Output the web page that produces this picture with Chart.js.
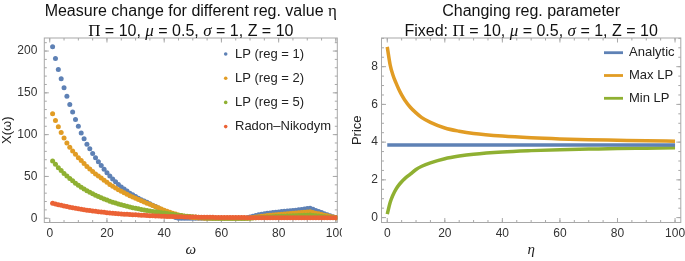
<!DOCTYPE html>
<html>
<head>
<meta charset="utf-8">
<script src="https://cdn.jsdelivr.net/npm/chart.js@4.4.1/dist/chart.umd.min.js"></script>
<style>
  html, body { margin: 0; padding: 0; background: #fff; }
  #wrap { display: flex; width: 685px; height: 261px; }
  canvas { display: block; }
</style>
</head>
<body>
<div id="wrap">
  <canvas id="measure" width="342" height="261"></canvas>
  <canvas id="price" width="343" height="261"></canvas>
</div>
<script>
// ── Left panel: measure X(ω) for each regularisation value ──
const OMEGA = [
  1, 2, 3, 4, 5, 6, 7, 8, 9, 10, 11, 12, 13, 14, 15, 16, 17, 18, 19, 20,
  21, 22, 23, 24, 25, 26, 27, 28, 29, 30, 31, 32, 33, 34, 35, 36, 37, 38, 39, 40,
  41, 42, 43, 44, 45, 46, 47, 48, 49, 50, 51, 52, 53, 54, 55, 56, 57, 58, 59, 60,
  61, 62, 63, 64, 65, 66, 67, 68, 69, 70, 71, 72, 73, 74, 75, 76, 77, 78, 79, 80,
  81, 82, 83, 84, 85, 86, 87, 88, 89, 90, 91, 92, 93, 94, 95, 96, 97, 98, 99, 100,
];
const LP_REG1 = [
  205, 191, 178, 167, 156, 146, 136, 127, 118, 110,
  102, 95, 88.5, 83, 77.5, 72.5, 67.5, 63, 58.5, 54.5,
  50.5, 47, 43.5, 40.5, 37.5, 35, 32.5, 30, 28, 26,
  24, 22, 20.5, 19, 17.3, 15.6, 14, 12.3, 10.6, 8.8,
  6.8, 4.8, 2.8, 1, 0, 0, 0, 0, 0, 0,
  0, 0, 0, 0, 0, 0, 0, 0, 0, 0,
  0, 0, 0, 0, 0, 0, 0, 0, 0.5, 1.5,
  2.5, 3.3, 4.1, 4.8, 5.4, 5.9, 6.4, 6.8, 7.2, 7.6,
  8.0, 8.3, 8.7, 9.0, 9.4, 9.7, 10.1, 10.5, 11.0, 11.5,
  12.0, 10.7, 9.4, 8.1, 6.8, 5.5, 4.3, 3.1, 1.9, 0.8,
];
const LP_REG2 = [
  125, 117, 109.5, 102.5, 96, 90, 85, 80.5, 76.5, 72.5,
  69, 65.5, 62, 59, 56, 53, 50.5, 48, 45.5, 43,
  40.5, 38.3, 36.2, 34.2, 32.3, 30.5, 28.7, 27, 25.4, 23.8,
  22.3, 20.8, 19.4, 18, 16.6, 15.2, 13.8, 12.4, 11, 9.7,
  8.4, 7.2, 6.1, 5.0, 4.0, 3.2, 2.5, 1.9, 1.4, 1.0,
  0.7, 0.4, 0.2, 0, 0, 0, 0, 0, 0, 0,
  0, 0, 0, 0, 0, 0, 0, 0, 0, 0.3,
  0.8, 1.4, 1.9, 2.4, 2.8, 3.2, 3.5, 3.8, 4.1, 4.4,
  4.7, 5.0, 5.3, 5.6, 5.9, 6.2, 6.5, 6.8, 7.1, 7.4,
  7.7, 6.9, 6.1, 5.3, 4.5, 3.7, 2.9, 2.1, 1.4, 0.7,
];
const LP_REG5 = [
  68.5, 64.5, 60.5, 57, 53.5, 50.5, 47.5, 44.7, 42, 39.5,
  37.2, 35, 33, 31, 29.2, 27.5, 25.9, 24.4, 23, 21.7,
  20.4, 19.2, 18.1, 17, 16, 15.1, 14.2, 13.4, 12.6, 11.9,
  11.2, 10.5, 9.9, 9.3, 8.7, 8.2, 7.7, 7.2, 6.7, 6.2,
  5.7, 5.2, 4.7, 4.2, 3.7, 3.2, 2.8, 2.4, 2.0, 1.7,
  1.4, 1.1, 0.8, 0.6, 0.4, 0.2, 0.1, 0, 0, 0,
  0, 0, 0, 0, 0, 0, 0, 0, 0, 0,
  0.2, 0.5, 0.8, 1.0, 1.2, 1.4, 1.6, 1.8, 2.0, 2.2,
  2.3, 2.5, 2.6, 2.8, 2.9, 3.1, 3.2, 3.4, 3.5, 3.7,
  3.8, 3.4, 3.0, 2.6, 2.2, 1.8, 1.4, 1.1, 0.8, 0.5,
];
const RADON_NIKODYM = [
  18, 17.1, 16.2, 15.4, 14.6, 13.9, 13.2, 12.5, 11.9, 11.3,
  10.7, 10.2, 9.7, 9.2, 8.7, 8.3, 7.9, 7.5, 7.1, 6.7,
  6.4, 6.1, 5.8, 5.5, 5.2, 4.9, 4.7, 4.5, 4.3, 4.1,
  3.9, 3.7, 3.5, 3.3, 3.1, 2.95, 2.8, 2.65, 2.5, 2.35,
  2.2, 2.1, 2.0, 1.9, 1.8, 1.7, 1.6, 1.5, 1.45, 1.4,
  1.35, 1.3, 1.25, 1.2, 1.15, 1.1, 1.05, 1.0, 0.95, 0.9,
  0.88, 0.86, 0.84, 0.82, 0.8, 0.78, 0.76, 0.74, 0.72, 0.7,
  0.7, 0.69, 0.68, 0.67, 0.66, 0.65, 0.64, 0.63, 0.62, 0.61,
  0.6, 0.6, 0.59, 0.59, 0.58, 0.58, 0.57, 0.57, 0.56, 0.56,
  0.55, 0.55, 0.54, 0.54, 0.53, 0.53, 0.52, 0.52, 0.51, 0.5,
];
const OMEGA_TICKS = [0, 20, 40, 60, 80, 100];
const MEASURE_TICKS = [0, 50, 100, 150, 200];

// ── Right panel: price vs regularisation parameter η ──
const ETA      = [0, 1, 2, 3, 4, 5, 6, 8, 10, 12, 15, 20, 25, 30, 40, 50, 60, 70, 80, 90, 100];
const ANALYTIC = [3.85, 3.85, 3.85, 3.85, 3.85, 3.85, 3.85, 3.85, 3.85, 3.85, 3.85,
                  3.85, 3.85, 3.85, 3.85, 3.85, 3.85, 3.85, 3.85, 3.85, 3.85];
const MAX_LP   = [9.05, 8.1, 7.55, 7.15, 6.8, 6.5, 6.25, 5.85, 5.55, 5.3, 5.05,
                  4.75, 4.58, 4.46, 4.32, 4.23, 4.17, 4.13, 4.1, 4.07, 4.05];
const MIN_LP   = [0.18, 0.8, 1.2, 1.5, 1.72, 1.9, 2.05, 2.3, 2.55, 2.72, 2.9,
                  3.12, 3.26, 3.36, 3.48, 3.55, 3.6, 3.63, 3.66, 3.68, 3.7];
const ETA_TICKS = [0, 20, 40, 60, 80, 100];
const PRICE_TICKS = [0, 2, 4, 6, 8];

// ── Shared style ──
const C_BLUE   = '#5e81b5';
const C_ORANGE = '#e19c24';
const C_GREEN  = '#8fb032';
const C_RED    = '#eb6235';
const FRAME    = '#a8a8a8';
const INK      = '#222';
const SANS  = '"Liberation Sans", Arial, sans-serif';
const SERIF = '"Liberation Serif", "Times New Roman", serif';

const zip = (xs, ys) => xs.map((x, i) => ({ x, y: ys[i] }));

// Mathematica-style frame with inward ticks on all four sides
const framePlugin = {
  id: 'frame',
  beforeDatasetsDraw(chart, args, o) {
    const { ctx, chartArea: a, scales: { x, y } } = chart;
    ctx.save();
    ctx.strokeStyle = FRAME;
    ctx.lineWidth = 1;
    ctx.strokeRect(a.left, a.top, a.right - a.left, a.bottom - a.top);
    const marks = (scale, step, len, horiz) => {
      const n0 = Math.ceil(scale.min / step), n1 = Math.floor(scale.max / step);
      for (let n = n0; n <= n1; n++) {
        const p = scale.getPixelForValue(n * step);
        ctx.beginPath();
        if (horiz) {
          ctx.moveTo(p, a.bottom); ctx.lineTo(p, a.bottom - len);
          ctx.moveTo(p, a.top);    ctx.lineTo(p, a.top + len);
        } else {
          ctx.moveTo(a.left, p);  ctx.lineTo(a.left + len, p);
          ctx.moveTo(a.right, p); ctx.lineTo(a.right - len, p);
        }
        ctx.stroke();
      }
    };
    marks(x, o.xMinor, 2.5, true);  marks(x, o.xMajor, 4.5, true);
    marks(y, o.yMinor, 2.5, false); marks(y, o.yMajor, 4.5, false);
    ctx.restore();
  },
};

// Two-line title with mixed fonts, centred on the plot frame
const richTitle = {
  id: 'richTitle',
  afterDraw(chart, args, o) {
    const { ctx, chartArea: a } = chart;
    const cx = (a.left + a.right) / 2;
    ctx.save();
    ctx.fillStyle = '#111';
    ctx.textBaseline = 'alphabetic';
    o.lines.forEach((runs, i) => {
      let w = 0;
      runs.forEach(r => { ctx.font = r[1]; w += ctx.measureText(r[0]).width; });
      let x = cx - w / 2;
      runs.forEach(r => {
        ctx.font = r[1];
        ctx.fillText(r[0], x, o.baselines[i]);
        x += ctx.measureText(r[0]).width;
      });
    });
    ctx.restore();
  },
};

// Legend drawn inside the plot, top right
const insetLegend = {
  id: 'insetLegend',
  afterDraw(chart, args, o) {
    const { ctx, chartArea: a } = chart;
    ctx.save();
    ctx.font = `13px ${SANS}`;
    ctx.textBaseline = 'middle';
    chart.data.datasets.forEach((ds, i) => {
      const x = a.left + o.left, y = a.top + o.top + i * o.gap;
      const c = ds.legendColor;
      if (o.kind === 'dot') {
        ctx.fillStyle = c;
        ctx.beginPath(); ctx.arc(x, y, 1.8, 0, Math.PI * 2); ctx.fill();
      } else {
        ctx.strokeStyle = c; ctx.lineWidth = 2.8;
        ctx.beginPath(); ctx.moveTo(x, y); ctx.lineTo(x + o.len, y); ctx.stroke();
      }
      ctx.fillStyle = INK;
      ctx.fillText(ds.label, x + o.textOffset, y);
    });
    ctx.restore();
  },
};

const tickFont = { family: SANS, size: 12 };

function xAxis(min, max, ticks, label) {
  return {
    type: 'linear', min, max,
    afterBuildTicks: s => { s.ticks = ticks.map(v => ({ value: v })); },
    afterFit: s => { s.height = 38.5; s.paddingLeft = 0; s.paddingRight = 0; },
    grid: { display: false, drawTicks: false }, border: { display: false },
    ticks: { color: '#333', font: tickFont, padding: 4, maxRotation: 0, autoSkip: false },
    title: { display: true, text: label, color: INK,
             font: { family: SERIF, size: 15, style: 'italic' }, padding: { top: 0, bottom: 1.5 } },
  };
}

function yAxis(min, max, ticks, label, width, pad, titlePad) {
  return {
    type: 'linear', min, max,
    afterBuildTicks: s => { s.ticks = ticks.map(v => ({ value: v })); },
    afterFit: s => { s.width = width; s.paddingTop = 0; s.paddingBottom = 0; },
    grid: { display: false, drawTicks: false }, border: { display: false },
    ticks: { color: '#333', font: tickFont, padding: pad, autoSkip: false },
    title: { display: true, text: label, color: INK,
             font: { family: SANS, size: 13 }, padding: { top: titlePad, bottom: 0 } },
  };
}

const t16 = `16px ${SANS}`, s17 = `17px ${SERIF}`, i17 = `italic 17px ${SERIF}`;
const paramRuns = [['Π', s17], [' = 10, ', t16], ['μ', i17], [' = 0.5, ', t16],
                   ['σ', i17], [' = 1, Z = 10', t16]];

// ── Measure chart ──
function dotSet(label, ys, color, order) {
  return { label, data: zip(OMEGA, ys), legendColor: color, order,
           backgroundColor: color, borderWidth: 0, pointRadius: 2.5, showLine: false };
}

new Chart(document.getElementById('measure'), {
  type: 'scatter',
  data: {
    datasets: [
      dotSet('LP (reg = 1)', LP_REG1, C_BLUE, 4),
      dotSet('LP (reg = 2)', LP_REG2, C_ORANGE, 3),
      dotSet('LP (reg = 5)', LP_REG5, C_GREEN, 2),
      dotSet('Radon–Nikodym', RADON_NIKODYM, C_RED, 1),
    ],
  },
  options: {
    responsive: false, animation: false, events: [],
    layout: { padding: { top: 38, left: 0, right: 4.7, bottom: 0 } },
    plugins: {
      legend: { display: false }, tooltip: { enabled: false },
      frame: { xMajor: 20, xMinor: 5, yMajor: 50, yMinor: 10 },
      richTitle: {
        lines: [[['Measure change for different reg. value ', t16], ['η', s17]], paramRuns],
        baselines: [15.5, 36],
      },
      insetLegend: { kind: 'dot', left: 181.4, top: 16, gap: 24.2, textOffset: 9.3 },
    },
    scales: {
      x: xAxis(-1.9, 100.5, OMEGA_TICKS, 'ω'),
      y: yAxis(-5.1, 215.6, MEASURE_TICKS, 'X(ω)', 44.3, 7, 0),
    },
  },
  plugins: [framePlugin, richTitle, insetLegend],
});

// ── Price chart ──
function lineSet(label, ys, color) {
  return { label, data: zip(ETA, ys), legendColor: color, borderColor: color,
           borderWidth: 3.5, pointRadius: 0, cubicInterpolationMode: 'monotone', fill: false };
}

new Chart(document.getElementById('price'), {
  type: 'line',
  data: {
    datasets: [
      lineSet('Analytic', ANALYTIC, C_BLUE),
      lineSet('Max LP', MAX_LP, C_ORANGE),
      lineSet('Min LP', MIN_LP, C_GREEN),
    ],
  },
  options: {
    responsive: false, animation: false, events: [],
    layout: { padding: { top: 38, left: 0, right: 4.2, bottom: 0 } },
    plugins: {
      legend: { display: false }, tooltip: { enabled: false },
      frame: { xMajor: 20, xMinor: 5, yMajor: 2, yMinor: 0.5 },
      richTitle: {
        lines: [[['Changing reg. parameter', t16]], [['Fixed: ', t16]].concat(paramRuns)],
        baselines: [15.5, 36],
      },
      insetLegend: { kind: 'line', left: 222.5, len: 19, top: 14.7, gap: 22.8, textOffset: 25 },
    },
    scales: {
      x: xAxis(-2, 102, ETA_TICKS, 'η'),
      y: yAxis(-0.26, 9.52, PRICE_TICKS, 'Price', 39.5, 3.5, 7.7),
    },
  },
  plugins: [framePlugin, richTitle, insetLegend],
});
</script>
</body>
</html>
